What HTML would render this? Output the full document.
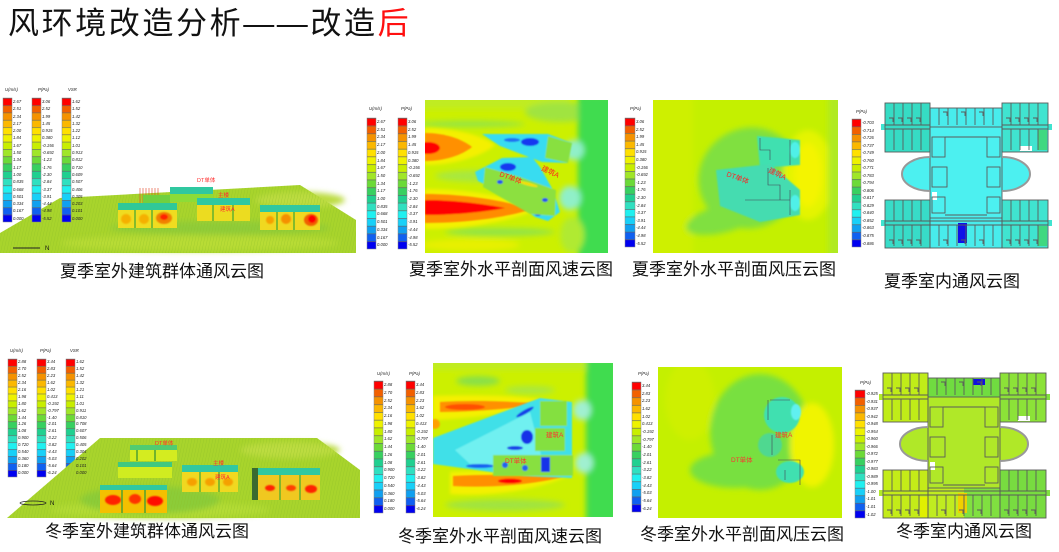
<!DOCTYPE html>
<html><head><meta charset="utf-8">
<style>
body{margin:0;width:1059px;height:552px;overflow:hidden;background:#fff;position:relative;font-family:"Liberation Sans","Noto Sans CJK SC",sans-serif}
svg{position:absolute;left:0;top:0}
.t{position:absolute;left:8px;top:6px;font-size:31px;line-height:36px;letter-spacing:2.6px;color:#111;white-space:nowrap;font-family:"Liberation Sans","Noto Sans CJK SC",sans-serif}
.c{position:absolute;font-size:17px;line-height:20px;color:#111;white-space:nowrap;font-family:"Liberation Sans","Noto Sans CJK SC",sans-serif}
.l{position:absolute;font-size:4.2px;font-style:italic;white-space:pre;color:#222;font-family:"Liberation Sans",sans-serif}
</style></head><body>
<svg width="1059" height="552" viewBox="0 0 1059 552">
<defs>
<linearGradient id="lg" x1="0" y1="0" x2="0" y2="1">
<stop offset="0" stop-color="#ff0000"/><stop offset=".0588" stop-color="#ff0000"/>
<stop offset=".0588" stop-color="#f26000"/><stop offset=".1176" stop-color="#f26000"/>
<stop offset=".1176" stop-color="#f59200"/><stop offset=".1765" stop-color="#f59200"/>
<stop offset=".1765" stop-color="#fbb800"/><stop offset=".2353" stop-color="#fbb800"/>
<stop offset=".2353" stop-color="#ffe000"/><stop offset=".2941" stop-color="#ffe000"/>
<stop offset=".2941" stop-color="#eef200"/><stop offset=".3529" stop-color="#eef200"/>
<stop offset=".3529" stop-color="#c8ee00"/><stop offset=".4118" stop-color="#c8ee00"/>
<stop offset=".4118" stop-color="#a0e628"/><stop offset=".4706" stop-color="#a0e628"/>
<stop offset=".4706" stop-color="#6cda38"/><stop offset=".5294" stop-color="#6cda38"/>
<stop offset=".5294" stop-color="#38d060"/><stop offset=".5882" stop-color="#38d060"/>
<stop offset=".5882" stop-color="#20d090"/><stop offset=".6471" stop-color="#20d090"/>
<stop offset=".6471" stop-color="#30e0c0"/><stop offset=".7059" stop-color="#30e0c0"/>
<stop offset=".7059" stop-color="#20f0f0"/><stop offset=".7647" stop-color="#20f0f0"/>
<stop offset=".7647" stop-color="#18d0f8"/><stop offset=".8235" stop-color="#18d0f8"/>
<stop offset=".8235" stop-color="#10a0f0"/><stop offset=".8824" stop-color="#10a0f0"/>
<stop offset=".8824" stop-color="#1060f0"/><stop offset=".9412" stop-color="#1060f0"/>
<stop offset=".9412" stop-color="#0000f0"/><stop offset="1" stop-color="#0000f0"/>
</linearGradient>
<pattern id="sep" patternUnits="objectBoundingBox" width="1" height=".0588" patternContentUnits="objectBoundingBox">
<rect width="1" height=".005" fill="#666"/>
</pattern>
<pattern id="gs" width="3" height="4" patternUnits="userSpaceOnUse" patternTransform="skewX(-12)">
<line x1="0" y1="0" x2="0" y2="4" stroke="#8cbf28" stroke-width=".7"/>
</pattern>
<filter id="b3" x="-20%" y="-20%" width="140%" height="140%"><feGaussianBlur stdDeviation="3"/></filter>
<filter id="b2" x="-20%" y="-20%" width="140%" height="140%"><feGaussianBlur stdDeviation="1.6"/></filter>
<filter id="b1" x="-20%" y="-20%" width="140%" height="140%"><feGaussianBlur stdDeviation="0.8"/></filter>
<clipPath id="c2"><rect x="425" y="100" width="183" height="153"/></clipPath>
<clipPath id="c3"><rect x="653" y="100" width="185" height="153"/></clipPath>
<clipPath id="c6"><rect x="433" y="363" width="180" height="154"/></clipPath>
<clipPath id="c7"><rect x="658" y="367" width="184" height="151"/></clipPath>
<g id="fpw" fill="none" stroke="#5a5a5a" stroke-width=".9">
<rect x="885" y="103" width="45" height="49"/>
<rect x="930" y="108" width="72" height="19"/>
<rect x="1002" y="103" width="46" height="49"/>
<rect x="885" y="200" width="45" height="48"/>
<rect x="930" y="218" width="72" height="30"/>
<rect x="1002" y="200" width="46" height="48"/>
<path d="M930,127V218M1002,127V218"/>
<path d="M885,125H930M885,129H930M1002,125H1048M1002,129H1048M885,221H1048M885,225H1048"/>
<path d="M894,103V125M903,103V125M912,103V125M921,103V125M894,129V150M903,129V150M912,129V150M921,129V150"/>
<path d="M939,108V125M948,108V125M957,108V125M966,108V125M975,108V125M984,108V125M993,108V125"/>
<path d="M1011,103V125M1020,103V125M1029,103V125M1038,103V125M1011,129V150M1020,129V150M1029,129V150M1038,129V150"/>
<path d="M894,200V221M903,200V221M912,200V221M921,200V221M894,225V246M903,225V246M912,225V246M921,225V246"/>
<path d="M939,225V246M948,225V246M957,225V246M966,225V246M975,225V246M984,225V246M993,225V246"/>
<path d="M1011,200V221M1020,200V221M1029,200V221M1038,200V221M1011,225V246M1020,225V246M1029,225V246M1038,225V246"/>
<path d="M889,118h4v4M898,118h4v4M907,118h4v4M916,118h4v4M889,240h4v4M898,240h4v4M907,240h4v4M916,240h4v4M1006,118h4v4M1015,118h4v4M1024,118h4v4M1033,118h4v4M1006,240h4v4M1015,240h4v4M1024,240h4v4M1033,240h4v4M943,112h4v4M961,112h4v4M979,112h4v4M943,240h4v4M961,240h4v4M979,240h4v4"/>
<rect x="932" y="137" width="13" height="20"/><rect x="987" y="137" width="13" height="20"/>
<rect x="932" y="167" width="15" height="20"/><rect x="987" y="167" width="13" height="20"/>
<rect x="932" y="197" width="13" height="16"/><rect x="987" y="197" width="13" height="16"/>
<path d="M945,137H987M945,215H987"/>
<path d="M930,157A28,17 0 0,0 930,191M1002,157A28,17 0 0,1 1002,191" stroke="#999" stroke-width="2"/>
</g>
</defs>

<!-- ============ SUMMER 3D ============ -->
<polygon points="0,233 60,198 300,185 356,220 356,253 0,253" fill="#a8d42c"/>
<g filter="url(#b3)">
<ellipse cx="200" cy="243" rx="140" ry="8" fill="#b8dc34"/>
<ellipse cx="300" cy="200" rx="45" ry="8" fill="#bcdc40"/>
<ellipse cx="220" cy="228" rx="110" ry="7" fill="#90cc38"/>
</g>
<polygon points="0,233 60,198 300,185 356,220 356,253 0,253" fill="url(#gs)" opacity=".7"/>
<path d="M140,188V204M143,188V204M146,188V204M149,188V204M152,188V204M155,188V204M158,188V204" stroke="#e04020" stroke-width=".6"/>
<rect x="143" y="195" width="27" height="8" fill="#70d040"/>
<rect x="170" y="187" width="43" height="7" fill="#30c8a0"/>
<rect x="170" y="194" width="43" height="8" fill="#8cdc38"/>
<rect x="118" y="203" width="59" height="7" fill="#30c898"/>
<rect x="118" y="210" width="59" height="18" fill="#f0dc20"/>
<g filter="url(#b1)">
<ellipse cx="126" cy="219" rx="5" ry="5" fill="#f5b000"/>
<ellipse cx="144" cy="219" rx="5" ry="5" fill="#f5b000"/>
<ellipse cx="164" cy="218" rx="8" ry="6" fill="#f08000"/>
<ellipse cx="164" cy="217" rx="4" ry="3" fill="#ff2000"/>
</g>
<path d="M135,210V228M152,210V228" stroke="#60b030" stroke-width="1.5"/>
<rect x="197" y="198" width="53" height="7" fill="#30c8a0"/>
<rect x="197" y="205" width="53" height="16" fill="#ecdc20"/>
<path d="M213,205V221M233,205V221" stroke="#60b030" stroke-width="1.5"/>
<rect x="260" y="205" width="60" height="7" fill="#30c8a0"/>
<rect x="260" y="212" width="60" height="18" fill="#f0d820"/>
<g filter="url(#b1)">
<ellipse cx="270" cy="220" rx="4" ry="4" fill="#f5a000"/>
<ellipse cx="286" cy="219" rx="5" ry="5" fill="#f59000"/>
<ellipse cx="311" cy="220" rx="7" ry="6" fill="#f06000"/>
<ellipse cx="312" cy="219" rx="4" ry="4" fill="#ff0000"/>
</g>
<path d="M277,212V230M294,212V230" stroke="#60b030" stroke-width="1.5"/>
<g font-family="Liberation Sans,Noto Sans CJK SC,sans-serif" font-size="5.5" fill="#ff3030">
<text x="197" y="182">DT单体</text><text x="218" y="197">主楼</text><text x="220" y="211">建筑A</text>
</g>
<line x1="13" y1="248" x2="40" y2="248" stroke="#222" stroke-width="1"/>
<text x="45" y="250" font-size="6" font-family="Liberation Sans,sans-serif" fill="#111">N</text>

<!-- legend headers -->
<g font-family="Liberation Sans,sans-serif" font-size="4.3" font-style="italic" fill="#222">
<text x="5" y="91">U(m/s)</text><text x="38" y="91">P(Pa)</text><text x="68" y="91">VSR</text>
<text x="369" y="110">U(m/s)</text><text x="401" y="110">P(Pa)</text>
<text x="630" y="110">P(Pa)</text>
<text x="856" y="113">P(Pa)</text>
<text x="10" y="352">U(m/s)</text><text x="40" y="352">P(Pa)</text><text x="70" y="352">VSR</text>
<text x="377" y="375">U(m/s)</text><text x="409" y="375">P(Pa)</text>
<text x="638" y="375">P(Pa)</text>
<text x="860" y="384">P(Pa)</text>
</g>
<g stroke="#888" stroke-width=".5">
<rect x="3" y="98" width="9" height="124" fill="url(#lg)"/>
<rect x="32" y="98" width="9" height="124" fill="url(#lg)"/>
<rect x="62" y="98" width="9" height="124" fill="url(#lg)"/>
<rect x="367" y="118" width="9" height="131" fill="url(#lg)"/>
<rect x="398" y="118" width="9" height="131" fill="url(#lg)"/>
<rect x="625" y="118" width="10" height="129" fill="url(#lg)"/>
<rect x="852" y="119" width="9" height="128" fill="url(#lg)"/>
<rect x="8" y="359" width="9" height="118" fill="url(#lg)"/>
<rect x="37" y="359" width="9" height="118" fill="url(#lg)"/>
<rect x="66" y="359" width="9" height="118" fill="url(#lg)"/>
<rect x="374" y="381" width="9" height="132" fill="url(#lg)"/>
<rect x="406" y="381" width="9" height="132" fill="url(#lg)"/>
<rect x="632" y="382" width="9" height="130" fill="url(#lg)"/>
<rect x="855" y="390" width="10" height="128" fill="url(#lg)"/>
</g>
<g>
<rect x="3" y="98" width="9" height="124" fill="url(#sep)"/>
<rect x="32" y="98" width="9" height="124" fill="url(#sep)"/>
<rect x="62" y="98" width="9" height="124" fill="url(#sep)"/>
<rect x="367" y="118" width="9" height="131" fill="url(#sep)"/>
<rect x="398" y="118" width="9" height="131" fill="url(#sep)"/>
<rect x="625" y="118" width="10" height="129" fill="url(#sep)"/>
<rect x="852" y="119" width="9" height="128" fill="url(#sep)"/>
<rect x="8" y="359" width="9" height="118" fill="url(#sep)"/>
<rect x="37" y="359" width="9" height="118" fill="url(#sep)"/>
<rect x="66" y="359" width="9" height="118" fill="url(#sep)"/>
<rect x="374" y="381" width="9" height="132" fill="url(#sep)"/>
<rect x="406" y="381" width="9" height="132" fill="url(#sep)"/>
<rect x="632" y="382" width="9" height="130" fill="url(#sep)"/>
<rect x="855" y="390" width="10" height="128" fill="url(#sep)"/>
</g>

<!-- ============ SUMMER SPEED ============ -->
<g clip-path="url(#c2)">
<rect x="425" y="100" width="183" height="153" fill="#ccf000"/>
<g filter="url(#b3)">
<rect x="420" y="95" width="150" height="14" fill="#c0ec20"/>
<ellipse cx="560" cy="112" rx="35" ry="10" fill="#a0e440"/>
<ellipse cx="470" cy="124" rx="55" ry="3" fill="#90e448"/>
<ellipse cx="480" cy="176" rx="45" ry="6" fill="#a8e840"/>
<ellipse cx="500" cy="232" rx="55" ry="4" fill="#90e448"/>
<ellipse cx="470" cy="245" rx="50" ry="6" fill="#e8f000"/>
<rect x="578" y="95" width="40" height="165" fill="#40dc50"/>
<ellipse cx="572" cy="235" rx="12" ry="18" fill="#b0ea30"/>
<ellipse cx="574" cy="150" rx="10" ry="10" fill="#90f0c8"/>
<ellipse cx="570" cy="198" rx="11" ry="12" fill="#90f0c8"/>
</g>
<g filter="url(#b2)">
<path d="M425,128 C450,128 480,134 495,145 C480,158 450,165 425,165 Z" fill="#f4f000"/>
</g>
<g filter="url(#b1)">
<path d="M425,133 C445,133 462,139 472,147 C462,155 445,161 425,161 Z" fill="#ff9000"/>
<ellipse cx="428" cy="148" rx="12" ry="6" fill="#ff0000"/>
</g>
<g filter="url(#b2)">
<path d="M425,189 C470,189 515,198 542,208 C515,220 470,229 425,229 Z" fill="#f4f000"/>
</g>
<g filter="url(#b1)">
<path d="M425,194 C470,194 508,202 532,209 C508,217 470,223 425,223 Z" fill="#ff8c00"/>
<path d="M425,200 C455,200 485,204 505,208 C485,212 455,215 425,215 Z" fill="#ff0000"/>
</g>
<g filter="url(#b1)">
<polygon points="482,134 548,134 572,143 567,163 542,162 500,146" fill="#38dcf0"/>
<polygon points="475,172 502,158 532,157 540,167 553,190 560,212 548,221 535,217 502,193 478,181" fill="#38dcf0"/>
<ellipse cx="530" cy="142" rx="9" ry="4" fill="#1838f0"/>
<ellipse cx="512" cy="140" rx="8" ry="2" fill="#2070f0"/>
<ellipse cx="508" cy="167" rx="8" ry="4" fill="#1838f0"/>
<ellipse cx="530" cy="185" rx="5" ry="4" fill="#1838f0"/>
<ellipse cx="538" cy="210" rx="5" ry="6" fill="#1838f0"/>
<polygon points="548,136 572,143 568,163 545,158" fill="#88e040"/>
<polygon points="485,167 520,177 556,190 555,216 530,214 483,187" fill="#8ce040"/>
<ellipse cx="500" cy="182" rx="3" ry="2" fill="#2050f0"/>
<ellipse cx="545" cy="200" rx="3" ry="2" fill="#2050f0"/>
<ellipse cx="528" cy="184" rx="10" ry="1.5" fill="#f4e000" transform="rotate(15 528 184)"/>
</g>
<g font-family="Liberation Sans,Noto Sans CJK SC,sans-serif" font-size="7" fill="#ff2020">
<text x="499" y="176" transform="rotate(20 499 176)">DT单体</text>
<text x="541" y="170" transform="rotate(25 541 170)">建筑A</text>
</g>
</g>

<!-- ============ SUMMER PRESSURE ============ -->
<g clip-path="url(#c3)">
<rect x="653" y="100" width="185" height="153" fill="#c4f000"/>
<g filter="url(#b3)">
<rect x="648" y="95" width="45" height="165" fill="#cef000"/>
<ellipse cx="750" cy="178" rx="52" ry="50" fill="#80e040" transform="rotate(-30 750 178)"/>
<ellipse cx="725" cy="218" rx="40" ry="14" fill="#80e040" transform="rotate(-15 725 218)"/>
<ellipse cx="808" cy="175" rx="25" ry="45" fill="#e4f400"/>
<ellipse cx="808" cy="175" rx="14" ry="32" fill="#f4f400"/>
<rect x="828" y="95" width="15" height="165" fill="#b0ea20"/>
</g>
<g filter="url(#b1)">
<polygon points="757,136 800,140 800,165 760,168" fill="#40e0b0"/>
<polygon points="716,170 770,164 800,190 800,215 760,222 720,206" fill="#44dcb0"/>
<ellipse cx="795" cy="150" rx="5" ry="8" fill="#50f0e8"/>
<ellipse cx="795" cy="203" rx="5" ry="8" fill="#50f0e8"/>
</g>
<path d="M760,138V150H770V160M790,140V165M768,168V185H780V200M790,190V215M745,200H790" stroke="#445" stroke-width=".6" fill="none"/>
<g font-family="Liberation Sans,Noto Sans CJK SC,sans-serif" font-size="7" fill="#ff2020">
<text x="726" y="176" transform="rotate(20 726 176)">DT单体</text>
<text x="768" y="172" transform="rotate(25 768 172)">建筑A</text>
</g>
</g>

<!-- ============ SUMMER INDOOR ============ -->
<g>
<rect x="885" y="103" width="45" height="49" fill="#36dcc4"/>
<rect x="930" y="108" width="72" height="19" fill="#48ecec"/>
<rect x="1002" y="103" width="46" height="49" fill="#40e4d0"/>
<rect x="930" y="127" width="72" height="91" fill="#4cf0f0"/>
<rect x="885" y="200" width="45" height="48" fill="#38dcc8"/>
<rect x="930" y="218" width="72" height="30" fill="#48ecec"/>
<rect x="1002" y="200" width="46" height="48" fill="#40e4d0"/>
<path d="M930,157A28,17 0 0,0 930,191Z" fill="#4cf0f0"/>
<path d="M1002,157A28,17 0 0,1 1002,191Z" fill="#4cf0f0"/>
<rect x="881" y="124" width="4" height="6" fill="#40e4d0"/><rect x="1048" y="124" width="4" height="6" fill="#40e4d0"/>
<rect x="881" y="220" width="4" height="6" fill="#40e4d0"/><rect x="1048" y="220" width="4" height="6" fill="#40e4d0"/>
<rect x="1038" y="130" width="9" height="20" fill="#40d880"/>
<rect x="1038" y="226" width="9" height="20" fill="#40d880"/>
<rect x="958" y="223" width="9" height="20" fill="#1010e8"/>
<rect x="1020" y="146" width="12" height="5" fill="#fff"/>
<rect x="932" y="192" width="5" height="8" fill="#fff"/>
<use href="#fpw"/>
</g>

<!-- ============ WINTER 3D ============ -->
<polygon points="7,518 100,438 317,438 360,470 360,518" fill="#a8d42c"/>
<g filter="url(#b3)">
<ellipse cx="160" cy="510" rx="110" ry="8" fill="#b4dc34"/>
<ellipse cx="290" cy="450" rx="50" ry="8" fill="#bcdc40"/>
<ellipse cx="150" cy="500" rx="70" ry="14" fill="#8ccc38"/>
</g>
<polygon points="7,518 100,438 317,438 360,470 360,518" fill="url(#gs)" opacity=".7"/>
<rect x="130" y="445" width="47" height="5" fill="#50cc70"/>
<rect x="130" y="450" width="47" height="11" fill="#d4ec20"/>
<rect x="118" y="462" width="54" height="5" fill="#40c880"/>
<rect x="118" y="467" width="54" height="11" fill="#d0ec20"/>
<rect x="100" y="485" width="67" height="5" fill="#30c8a0"/>
<rect x="100" y="490" width="67" height="23" fill="#f4c000"/>
<g filter="url(#b1)">
<ellipse cx="113" cy="500" rx="8" ry="5" fill="#ff2000"/>
<ellipse cx="135" cy="499" rx="6" ry="5" fill="#ff3000"/>
<ellipse cx="155" cy="501" rx="8" ry="5" fill="#ff1000"/>
</g>
<path d="M122,490V513M145,490V513M137,450V461M155,450V461" stroke="#50a030" stroke-width="1.5"/>
<rect x="182" y="465" width="56" height="7" fill="#30c8a0"/>
<rect x="182" y="472" width="56" height="20" fill="#f0d820"/>
<g filter="url(#b1)">
<ellipse cx="192" cy="482" rx="5" ry="4" fill="#f5a000"/>
<ellipse cx="210" cy="482" rx="5" ry="4" fill="#f5a000"/>
<ellipse cx="228" cy="482" rx="5" ry="4" fill="#f5a000"/>
</g>
<path d="M200,472V492M219,472V492" stroke="#60b030" stroke-width="1.5"/>
<rect x="252" y="468" width="6" height="32" fill="#3a6a30"/>
<rect x="258" y="468" width="62" height="7" fill="#30c8a0"/>
<rect x="258" y="475" width="62" height="25" fill="#f0c820"/>
<g filter="url(#b1)">
<ellipse cx="270" cy="488" rx="5" ry="3" fill="#ff2000"/>
<ellipse cx="291" cy="488" rx="5" ry="3" fill="#ff4000"/>
<ellipse cx="311" cy="489" rx="6" ry="4" fill="#ff2000"/>
</g>
<path d="M280,475V500M300,475V500" stroke="#60b030" stroke-width="1.5"/>
<g font-family="Liberation Sans,Noto Sans CJK SC,sans-serif" font-size="5.5" fill="#ff3030">
<text x="155" y="445">DT单体</text><text x="213" y="465">主楼</text><text x="215" y="479">建筑A</text>
</g>
<ellipse cx="33" cy="503" rx="13" ry="2" fill="none" stroke="#222" stroke-width=".8"/>
<text x="50" y="505" font-size="6" font-family="Liberation Sans,sans-serif" fill="#111">N</text>

<!-- ============ WINTER SPEED ============ -->
<g clip-path="url(#c6)">
<rect x="433" y="363" width="180" height="154" fill="#ccf000"/>
<g filter="url(#b3)">
<rect x="428" y="358" width="160" height="12" fill="#c0ec20"/>
<ellipse cx="478" cy="381" rx="22" ry="5" fill="#88e048"/>
<ellipse cx="530" cy="390" rx="25" ry="4" fill="#a8e840"/>
<ellipse cx="505" cy="505" rx="60" ry="6" fill="#a0e440"/>
<rect x="586" y="358" width="32" height="165" fill="#40dc50"/>
<ellipse cx="582" cy="410" rx="9" ry="10" fill="#a0f0d0"/>
<ellipse cx="584" cy="463" rx="9" ry="10" fill="#a0f0d0"/>
</g>
<g filter="url(#b2)">
<path d="M433,396 C480,394 530,396 555,402 C530,410 480,418 433,420 Z" fill="#f4f000"/>
<path d="M450,472 C490,470 540,472 572,474 C540,490 490,497 450,494 Z" fill="#f4f000"/>
</g>
<g filter="url(#b1)">
<path d="M440,402 C470,400 510,401 545,404 C510,409 470,412 440,412 Z" fill="#ff9000"/>
<ellipse cx="465" cy="407" rx="20" ry="3" fill="#ff5000"/>
<ellipse cx="435" cy="424" rx="5" ry="5" fill="#ffa000"/>
<path d="M453,476 C490,474 530,475 563,477 C530,485 490,488 453,486 Z" fill="#ff9000"/>
<ellipse cx="510" cy="481" rx="12" ry="2.5" fill="#ff0000"/>
</g>
<g filter="url(#b1)">
<polygon points="433,438 540,398 572,402 572,478 520,476 433,464" fill="#40e0e8"/>
<polygon points="455,450 530,412 545,470 470,464" fill="#70f0f0"/>
<ellipse cx="525" cy="412" rx="10" ry="2" fill="#1840e8" transform="rotate(-30 525 412)"/>
<ellipse cx="527" cy="437" rx="6" ry="7" fill="#1830e8"/>
<ellipse cx="515" cy="448" rx="8" ry="2" fill="#1840e8"/>
<ellipse cx="480" cy="466" rx="14" ry="2" fill="#1860f0"/>
<rect x="540" y="401" width="27" height="25" fill="#84e040"/>
<rect x="535" y="428" width="30" height="23" fill="#84e040"/>
<rect x="493" y="455" width="80" height="21" fill="#88e040"/>
<rect x="541" y="457" width="9" height="15" fill="#1830e8"/>
<ellipse cx="505" cy="465" rx="3" ry="3" fill="#2060f0"/>
<ellipse cx="525" cy="468" rx="3" ry="3" fill="#2060f0"/>
</g>
<g font-family="Liberation Sans,Noto Sans CJK SC,sans-serif" font-size="6.5" fill="#ff3030">
<text x="546" y="437">建筑A</text><text x="505" y="463">DT单体</text>
</g>
</g>

<!-- ============ WINTER PRESSURE ============ -->
<g clip-path="url(#c7)">
<rect x="658" y="367" width="184" height="151" fill="#c4f000"/>
<g filter="url(#b3)">
<ellipse cx="690" cy="400" rx="25" ry="40" fill="#cef000"/>
<ellipse cx="760" cy="432" rx="50" ry="58" fill="#78e040"/>
<ellipse cx="735" cy="470" rx="45" ry="18" fill="#78e040"/>
<ellipse cx="812" cy="445" rx="22" ry="42" fill="#f0f400"/>
</g>
<g filter="url(#b1)">
<ellipse cx="782" cy="415" rx="18" ry="18" fill="#40e0b0"/>
<ellipse cx="790" cy="472" rx="14" ry="11" fill="#40e0b0"/>
<ellipse cx="770" cy="445" rx="12" ry="12" fill="#50d890"/>
<ellipse cx="796" cy="412" rx="5" ry="8" fill="#60f0f0"/>
</g>
<path d="M770,400H790M768,400V420M772,435V455M778,460H800V485M785,470V480" stroke="#445" stroke-width=".6" fill="none"/>
<g font-family="Liberation Sans,Noto Sans CJK SC,sans-serif" font-size="6.5" fill="#ff3030">
<text x="775" y="437">建筑A</text><text x="731" y="462">DT单体</text>
</g>
</g>

<!-- ============ WINTER INDOOR ============ -->
<g transform="translate(-2,270)">
<rect x="885" y="103" width="45" height="49" fill="#c0ec18"/>
<rect x="930" y="108" width="72" height="19" fill="#70dc40"/>
<rect x="1002" y="103" width="46" height="49" fill="#8ce238"/>
<rect x="930" y="127" width="72" height="91" fill="#b0e828"/>
<rect x="885" y="200" width="45" height="48" fill="#c4ec18"/>
<rect x="930" y="218" width="36" height="30" fill="#c0ec20"/>
<rect x="966" y="218" width="36" height="30" fill="#80e040"/>
<rect x="1002" y="200" width="46" height="48" fill="#78dc40"/>
<path d="M930,157A28,17 0 0,0 930,191Z" fill="#b0e828"/>
<path d="M1002,157A28,17 0 0,1 1002,191Z" fill="#b0e828"/>
<rect x="881" y="124" width="4" height="6" fill="#b0e828"/><rect x="1048" y="124" width="4" height="6" fill="#80e040"/>
<rect x="881" y="220" width="4" height="6" fill="#b0e828"/><rect x="1048" y="220" width="4" height="6" fill="#80e040"/>
<rect x="922" y="227" width="8" height="20" fill="#e0f000"/>
<rect x="975" y="109" width="12" height="6" fill="#1010e0"/>
<rect x="960" y="223" width="9" height="20" fill="#f0d000"/>
<rect x="1020" y="146" width="12" height="5" fill="#fff"/>
<rect x="932" y="192" width="5" height="8" fill="#fff"/>
<use href="#fpw"/>
</g>
</svg>

<div class="t">风环境改造分析——改造<span style="color:#ff1010">后</span></div>

<div class="c" style="left:60px;top:262px">夏季室外建筑群体通风云图</div>
<div class="c" style="left:409px;top:260px">夏季室外水平剖面风速云图</div>
<div class="c" style="left:632px;top:260px">夏季室外水平剖面风压云图</div>
<div class="c" style="left:884px;top:272px">夏季室内通风云图</div>
<div class="c" style="left:45px;top:522px">冬季室外建筑群体通风云图</div>
<div class="c" style="left:398px;top:527px">冬季室外水平剖面风速云图</div>
<div class="c" style="left:640px;top:525px">冬季室外水平剖面风压云图</div>
<div class="c" style="left:896px;top:522px">冬季室内通风云图</div>

<div class="l" style="left:13px;top:98px;line-height:7.29px">2.67
2.51
2.34
2.17
2.00
1.84
1.67
1.50
1.34
1.17
1.00
0.835
0.668
0.501
0.334
0.167
0.000</div>
<div class="l" style="left:42px;top:98px;line-height:7.29px">3.06
2.52
1.99
1.45
0.915
0.380
-0.156
-0.692
-1.23
-1.76
-2.30
-2.84
-3.37
-3.91
-4.44
-4.98
-5.52</div>
<div class="l" style="left:72px;top:98px;line-height:7.29px">1.62
1.52
1.42
1.32
1.22
1.12
1.01
0.913
0.812
0.710
0.609
0.507
0.406
0.305
0.203
0.101
0.000</div>
<div class="l" style="left:377px;top:118px;line-height:7.7px">2.67
2.51
2.34
2.17
2.00
1.84
1.67
1.50
1.34
1.17
1.00
0.835
0.668
0.501
0.334
0.167
0.000</div>
<div class="l" style="left:408px;top:118px;line-height:7.7px">3.06
2.52
1.99
1.45
0.915
0.380
-0.156
-0.692
-1.23
-1.76
-2.30
-2.84
-3.37
-3.91
-4.44
-4.98
-5.52</div>
<div class="l" style="left:636px;top:118px;line-height:7.59px">3.06
2.52
1.99
1.45
0.915
0.380
-0.156
-0.692
-1.23
-1.76
-2.30
-2.84
-3.37
-3.91
-4.44
-4.98
-5.52</div>
<div class="l" style="left:862px;top:119px;line-height:7.53px">-0.703
-0.714
-0.726
-0.737
-0.749
-0.760
-0.771
-0.783
-0.794
-0.806
-0.817
-0.829
-0.840
-0.852
-0.863
-0.875
-0.886</div>
<div class="l" style="left:18px;top:359px;line-height:6.94px">2.88
2.70
2.52
2.34
2.16
1.98
1.80
1.62
1.44
1.26
1.08
0.900
0.720
0.540
0.360
0.180
0.000</div>
<div class="l" style="left:47px;top:359px;line-height:6.94px">3.44
2.83
2.23
1.62
1.02
0.413
-0.192
-0.797
-1.40
-2.01
-2.61
-3.22
-3.82
-4.43
-5.03
-5.64
-6.24</div>
<div class="l" style="left:76px;top:359px;line-height:6.94px">1.62
1.52
1.42
1.32
1.21
1.11
1.01
0.911
0.810
0.708
0.607
0.506
0.405
0.304
0.202
0.101
0.000</div>
<div class="l" style="left:384px;top:381px;line-height:7.76px">2.88
2.70
2.52
2.34
2.16
1.98
1.80
1.62
1.44
1.26
1.08
0.900
0.720
0.540
0.360
0.180
0.000</div>
<div class="l" style="left:416px;top:381px;line-height:7.76px">3.44
2.83
2.23
1.62
1.02
0.413
-0.192
-0.797
-1.40
-2.01
-2.61
-3.22
-3.82
-4.43
-5.03
-5.64
-6.24</div>
<div class="l" style="left:642px;top:382px;line-height:7.65px">3.44
2.83
2.23
1.62
1.02
0.413
-0.192
-0.797
-1.40
-2.01
-2.61
-3.22
-3.82
-4.43
-5.03
-5.64
-6.24</div>
<div class="l" style="left:866px;top:390px;line-height:7.53px">-0.925
-0.931
-0.937
-0.942
-0.948
-0.954
-0.960
-0.966
-0.972
-0.977
-0.983
-0.989
-0.995
-1.00
-1.01
-1.01
-1.02</div>
</body></html>
